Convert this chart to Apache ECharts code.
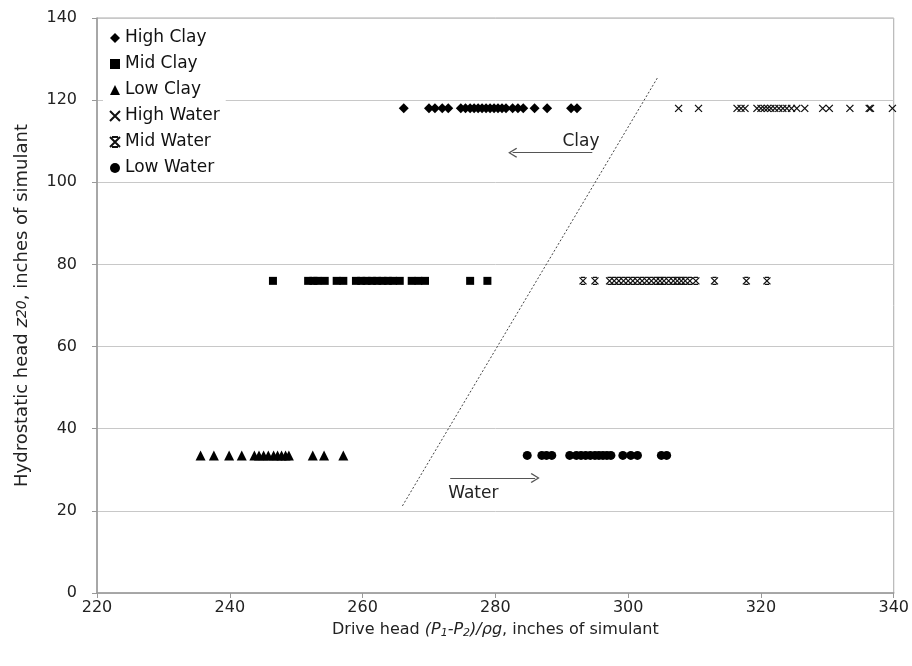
<!DOCTYPE html>
<html>
<head>
<meta charset="utf-8">
<script src="https://cdn.jsdelivr.net/npm/echarts@6/dist/echarts.min.js"></script>
<style>html,body{margin:0;padding:0;background:#fff}#c{width:912px;height:666px}</style>
</head>
<body>
<div id="c"></div>
<script>
// ---- data ----
const seriesNames = ['High Clay','Mid Clay','Low Clay','High Water','Mid Water','Low Water'];
const levelHigh = 118, levelMid = 76, levelLow = 33.5;
const highClayX = [266.2, 270.0, 270.9, 272.0, 272.9, 274.8, 275.5, 276.2, 276.8, 277.4, 278.0, 278.6, 279.2, 279.8, 280.4, 281.0, 281.6, 282.6, 283.4, 284.2, 285.9, 287.8, 291.4, 292.3];
const midClayX = [246.5, 251.8, 252.6, 253.2, 254.3, 256.1, 257.1, 259.0, 259.8, 260.6, 261.4, 262.2, 263.0, 263.8, 264.6, 265.6, 267.4, 268.4, 269.4, 276.2, 278.8];
const lowClayX = [235.6, 237.6, 239.9, 241.8, 243.7, 244.4, 245.1, 245.8, 246.6, 247.2, 247.8, 248.4, 248.9, 252.5, 254.2, 257.1];
const highWaterX = [307.6, 310.6, 316.4, 317.0, 317.6, 319.4, 320.0, 320.5, 321.0, 321.5, 322.1, 322.7, 323.3, 323.9, 324.6, 325.4, 326.6, 329.3, 330.3, 333.4, 336.3, 336.5, 339.8];
const midWaterX = [293.2, 295.0, 297.2, 297.9, 298.6, 299.3, 300.0, 300.7, 301.4, 302.1, 302.8, 303.5, 304.2, 304.8, 305.4, 306.1, 306.8, 307.4, 308.0, 308.6, 309.3, 310.2, 313.0, 317.8, 320.9];
const lowWaterX = [284.8, 287.0, 287.7, 288.5, 291.2, 292.2, 292.9, 293.6, 294.3, 295.0, 295.6, 296.2, 296.8, 297.4, 299.2, 300.4, 301.4, 305.0, 305.8];
const boundaryLine = [[266.0, 21.2], [304.4, 125.4]];
const clayArrow = [[294.6, 107.2], [282.6, 107.2]];
const waterArrow = [[273.2, 28.0], [286.0, 28.0]];
const clayLabel = [290.1, 110.0];
const waterLabel = [272.9, 24.3];
const xTicks = {min: 220, max: 340, step: 20};
const yTicks = {min: 0, max: 140, step: 20};

const font = '"DejaVu Sans", Verdana, sans-serif';
const mk = (xs, y) => xs.map(x => [x, y]);
const crossPath = 'path://M0,0L10,10M10,0L0,10';
const starPath = 'path://M0,0L10,10M10,0L0,10M2,0L8,0M2,10L8,10';
const chevron = 'path://M5,0L10,9L9,10L5,2.5L1,10L0,9Z';

const base = (name, data, symbol, size, stroke) => ({
  name, type: 'scatter', data, symbol, symbolSize: size,
  itemStyle: stroke ? {color: 'rgba(0,0,0,0)', borderColor: '#111', borderWidth: 1.3, opacity: 1}
                    : {color: '#000', opacity: 1},
  emphasis: {disabled: true}, z: 5
});

const chart = echarts.init(document.getElementById('c'), null, {renderer: 'canvas'});
chart.setOption({
  animation: false,
  backgroundColor: '#fff',
  grid: {left: 97, right: 17, top: 18, bottom: 73, show: true, borderColor: '#aaa', borderWidth: 1, backgroundColor: 'transparent'},
  legend: {
    data: seriesNames, orient: 'vertical', left: 103, top: 26,
    backgroundColor: '#fff', padding: [2, 6, 4, 6],
    itemWidth: 10, itemHeight: 10, itemGap: 6,
    textStyle: {fontFamily: font, fontSize: 17, color: '#111', lineHeight: 20},
    selectedMode: false
  },
  xAxis: {
    type: 'value', min: xTicks.min, max: xTicks.max, interval: xTicks.step,
    axisLine: {lineStyle: {color: '#999', width: 1.5}},
    axisTick: {show: true, length: 5, lineStyle: {color: '#999'}},
    splitLine: {show: false},
    axisLabel: {fontFamily: font, fontSize: 16, color: '#222', margin: 7},
    name: 'Drive head {i|(P}{s|1}{i|-P}{s|2}{i|)/ρg}, inches of simulant',
    nameLocation: 'middle', nameGap: 27,
    nameTextStyle: {fontFamily: font, fontSize: 16, color: '#222',
      rich: {i: {fontFamily: font, fontSize: 16, fontStyle: 'italic', color: '#222'},
             s: {fontFamily: font, fontSize: 11, fontStyle: 'italic', color: '#222', padding: [8, 0, 0, 0]}}}
  },
  yAxis: {
    type: 'value', min: yTicks.min, max: yTicks.max, interval: yTicks.step,
    axisLine: {show: true, lineStyle: {color: '#999', width: 1.5}},
    axisTick: {show: true, length: 5, lineStyle: {color: '#999'}},
    splitLine: {show: true, lineStyle: {color: '#c8c8c8', width: 1}},
    axisLabel: {fontFamily: font, fontSize: 16, color: '#222', margin: 20},
    name: 'Hydrostatic head {i|z}{s|20}, inches of simulant',
    nameLocation: 'middle', nameGap: 66, nameRotate: 90,
    nameTextStyle: {fontFamily: font, fontSize: 18, color: '#222',
      rich: {i: {fontFamily: font, fontSize: 18, fontStyle: 'italic', color: '#222'},
             s: {fontFamily: font, fontSize: 14, fontStyle: 'italic', color: '#222'}}}
  },
  series: [
    base('High Clay', mk(highClayX, levelHigh), 'diamond', 10),
    base('Mid Clay', mk(midClayX, levelMid), 'rect', 8),
    base('Low Clay', mk(lowClayX, levelLow), 'triangle', 10),
    base('High Water', mk(highWaterX, levelHigh), crossPath, 7, true),
    base('Mid Water', mk(midWaterX, levelMid), starPath, 7, true),
    base('Low Water', mk(lowWaterX, levelLow), 'circle', 9),
    {
      name: 'annot', type: 'line', data: [], silent: true,
      markLine: {
        silent: true, animation: false, label: {show: false},
        data: [
          [{coord: boundaryLine[0], symbol: 'none', lineStyle: {type: [2, 2], color: '#444', width: 1}},
           {coord: boundaryLine[1], symbol: 'none'}],
          [{coord: clayArrow[0], symbol: 'none', lineStyle: {type: 'solid', color: '#555', width: 1}},
           {coord: clayArrow[1], symbol: chevron, symbolSize: [10, 9]}],
          [{coord: waterArrow[0], symbol: 'none', lineStyle: {type: 'solid', color: '#555', width: 1}},
           {coord: waterArrow[1], symbol: chevron, symbolSize: [10, 9]}]
        ]
      },
      markPoint: {
        silent: true, symbol: 'circle', symbolSize: 0,
        label: {show: true, fontFamily: font, fontSize: 17, color: '#222', position: 'inside'},
        data: [
          {coord: clayLabel, value: 'Clay', label: {formatter: 'Clay', align: 'left'}},
          {coord: waterLabel, value: 'Water', label: {formatter: 'Water', align: 'left'}}
        ]
      }
    }
  ]
});
</script>
</body>
</html>
